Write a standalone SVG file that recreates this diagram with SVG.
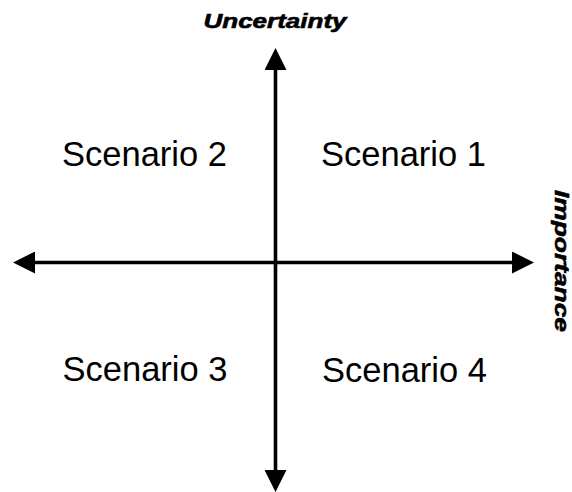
<svg xmlns="http://www.w3.org/2000/svg" width="572" height="492" viewBox="0 0 572 492">
  <style>
    .axis { stroke: #000; stroke-width: 3.6; fill: none; }
    .scen { font-family: "Liberation Sans", Arial, sans-serif; font-size: 34.5px; fill: #000; text-anchor: middle; }
    .axlabel { font-family: "Liberation Sans", Arial, sans-serif; font-size: 20px; font-weight: bold; font-style: italic; fill: #000; stroke: #000; stroke-width: 0.6; text-anchor: middle; }
  </style>
  <defs>
    <marker id="arrow" viewBox="0 0 22 22" refX="0" refY="11" markerWidth="22" markerHeight="22" markerUnits="userSpaceOnUse" orient="auto">
      <polygon points="0,0 22,11 0,22" fill="#000"/>
    </marker>
  </defs>
  <rect width="572" height="492" fill="#fff"/>
  <g id="connectors">
    <line class="axis" x1="275.5" y1="262.5" x2="275.5" y2="70" marker-end="url(#arrow)"/>
    <line class="axis" x1="275.5" y1="262.5" x2="275.5" y2="470" marker-end="url(#arrow)"/>
    <line class="axis" x1="275.5" y1="262.5" x2="35" y2="262.5" marker-end="url(#arrow)"/>
    <line class="axis" x1="275.5" y1="262.5" x2="512" y2="262.5" marker-end="url(#arrow)"/>
  </g>
  <g id="label-uncertainty">
    <text class="axlabel" x="275" y="27.5" textLength="143" lengthAdjust="spacingAndGlyphs">Uncertainty</text>
  </g>
  <g id="label-importance">
    <text class="axlabel" transform="translate(555,261) rotate(90)" x="0" y="0" textLength="142" lengthAdjust="spacingAndGlyphs">Importance</text>
  </g>
  <g id="scenario1"><text class="scen" x="403.5" y="166">Scenario 1</text></g>
  <g id="scenario2"><text class="scen" x="144.5" y="166">Scenario 2</text></g>
  <g id="scenario3"><text class="scen" x="145" y="381">Scenario 3</text></g>
  <g id="scenario4"><text class="scen" x="404.5" y="382">Scenario 4</text></g>
</svg>
